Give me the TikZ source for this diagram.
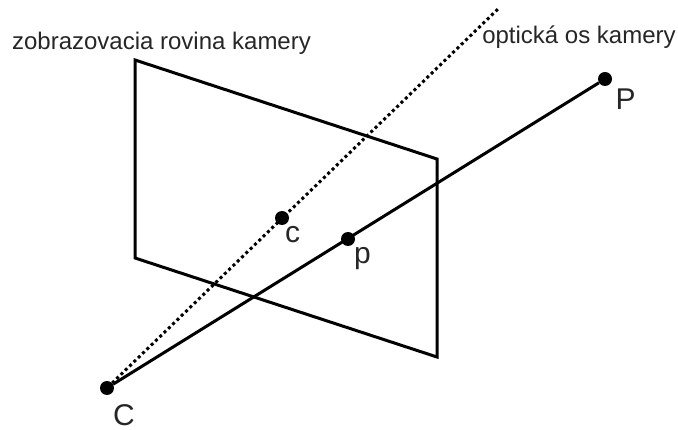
\documentclass[tikz,border=0pt]{standalone}
\usepackage{fontspec}
\setmainfont{Liberation Sans}
\begin{document}
\begin{tikzpicture}[x=1pt,y=-1pt]
            \tikzset{
                bod/.style={circle, fill=black, inner sep=0pt, minimum size=14pt},
                popis/.style={inner sep=0pt, anchor=center, text=black!85}
            }
            \useasboundingbox (0,0) rectangle (678,430);
            % Plane
            \coordinate (rohA) at (135,60);
            \coordinate (rohB) at (437,159);
            \coordinate (rohC) at (437,357);
            \coordinate (rohD) at (135,258);
            \draw[line width=3pt, line join=miter] (rohA) -- (rohB) -- (rohC) -- (rohD) -- cycle;

            % Points
            \node[bod] (C) at (107,388) {};
            \node[bod] (P) at (605,79) {};
            \node[bod] (c) at (282,218) {};
            \node[bod] (p) at (348,239) {};
            \coordinate (osa) at (499,8);

            % Axes
            \draw[line width=3pt, dash pattern=on 3pt off 3pt] (C) -- (osa);
            \draw[line width=3pt] (C) -- (P);

            % Labels
            \node[popis, font=\fontsize{30}{30}\selectfont] (lC) at (124,415) {C};
            \node[popis, font=\fontsize{30}{30}\selectfont] (lP) at (625.5,99) {P};
            \node[popis, font=\fontsize{30}{30}\selectfont] (lc) at (292.5,234.5) {c};
            \node[popis, font=\fontsize{30}{30}\selectfont] (lp) at (362.5,258.5) {p};
            \node[popis, font=\fontsize{24}{24}\selectfont] (rovina) at (161.5,43) {zobrazovacia rovina kamery};
            \node[popis, font=\fontsize{24}{24}\selectfont] (os) at (579,37) {optická os kamery};
        \end{tikzpicture}
\end{document}
